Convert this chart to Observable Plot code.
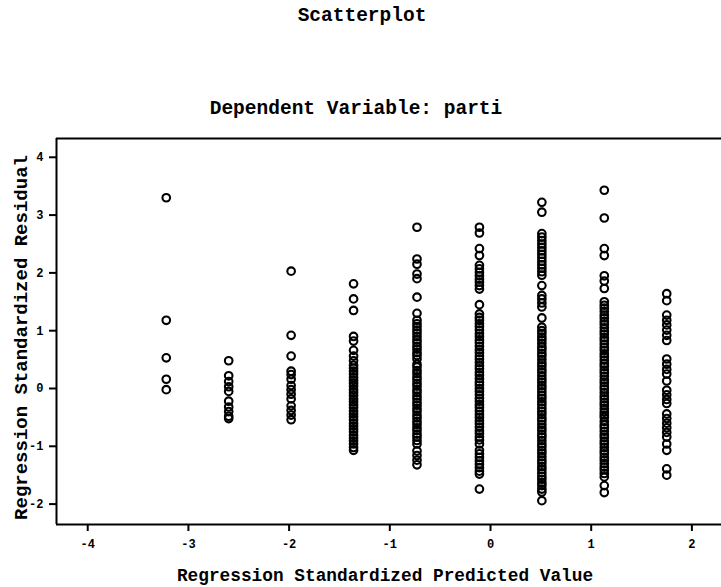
<!DOCTYPE html>
<html>
<head>
<meta charset="utf-8">
<script src="https://cdn.jsdelivr.net/npm/d3@7"></script>
<script src="https://cdn.jsdelivr.net/npm/@observablehq/plot@0.6"></script>
<style>
  html, body { margin: 0; padding: 0; background: #fff; }
  #chart svg { display: block; }
  #chart svg [aria-label$="tick label"] { font-size: 12px; font-weight: bold; }
</style>
</head>
<body>
<div id="chart"></div>
<script>
// Predicted-value columns (x) and the residuals read for each column (y)
const predicted = [-3.22, -2.60, -1.98, -1.36, -0.73, -0.11, 0.51, 1.13, 1.75];

const col1 = [3.30, 1.18, 0.53, 0.16, -0.02];
const col2 = [0.48, 0.22, 0.12, 0.03, -0.05, -0.22, -0.32, -0.40, -0.48, -0.52];
const col3 = [2.03, 0.92, 0.56, 0.30, 0.24, 0.16, 0.05, -0.02, -0.10, -0.18, -0.30, -0.38, -0.46, -0.54];
const col4 = [1.81, 1.55, 1.35, 0.90, 0.82, 0.66, 0.56, 0.48,
  0.40, 0.35, 0.30, 0.25, 0.19, 0.14, 0.09, 0.04, -0.02, -0.07, -0.12, -0.18, -0.23, -0.28,
  -0.33, -0.39, -0.44, -0.49, -0.54, -0.60, -0.65, -0.70, -0.75, -0.81, -0.86, -0.91, -0.96, -1.02, -1.07];
const col5 = [2.79, 2.24, 2.15, 1.98, 1.90, 1.58, 1.30,
  1.18, 1.12, 1.07, 1.01, 0.96, 0.90, 0.84, 0.79, 0.73, 0.68, 0.62, 0.57, 0.51,
  0.42, 0.37, 0.31, 0.26, 0.20, 0.15, 0.09, 0.04, -0.02, -0.07, -0.13, -0.18, -0.24, -0.29,
  -0.35, -0.40, -0.46, -0.51, -0.57, -0.62, -0.68, -0.73, -0.79, -0.84, -0.90, -0.96,
  -1.08, -1.16, -1.24, -1.32];
const col6 = [2.79, 2.69, 2.42, 2.30, 2.13, 2.07, 2.01, 1.95, 1.89, 1.84, 1.78, 1.72, 1.45,
  1.29, 1.23, 1.18, 1.12, 1.07, 1.01, 0.95, 0.90, 0.84, 0.79, 0.73, 0.67, 0.62, 0.56, 0.51,
  0.45, 0.39, 0.34, 0.28, 0.23, 0.17, 0.11, 0.06, 0.00, -0.05, -0.11, -0.17, -0.22, -0.28,
  -0.33, -0.39, -0.45, -0.50, -0.56, -0.61, -0.67, -0.73, -0.78, -0.84, -0.89, -0.96,
  -1.07, -1.13, -1.19, -1.25, -1.31, -1.37, -1.43, -1.48, -1.74];
const col7 = [3.22, 3.05, 2.68, 2.62, 2.56, 2.50, 2.44, 2.38, 2.32, 2.26, 2.20, 2.14, 2.08, 2.02, 1.96,
  1.78, 1.61, 1.55, 1.48, 1.41, 1.22,
  1.06, 1.00, 0.95, 0.89, 0.84, 0.78, 0.72, 0.67, 0.61, 0.56, 0.50, 0.44, 0.39, 0.33, 0.28,
  0.22, 0.16, 0.11, 0.05, 0.00, -0.06, -0.12, -0.17, -0.23, -0.28, -0.34, -0.40, -0.45, -0.51,
  -0.56, -0.62, -0.68, -0.73, -0.79, -0.84, -0.90, -0.96, -1.01, -1.07, -1.12, -1.18, -1.24,
  -1.29, -1.35, -1.40, -1.46, -1.52, -1.57, -1.63, -1.68, -1.74, -1.79, -1.94];
const col8 = [3.43, 2.95, 2.42, 2.30, 1.95, 1.86, 1.73,
  1.50, 1.44, 1.39, 1.33, 1.27, 1.22, 1.16, 1.11, 1.05, 0.99, 0.94, 0.88, 0.83, 0.77, 0.71,
  0.66, 0.60, 0.55, 0.49, 0.43, 0.38, 0.32, 0.27, 0.21, 0.15, 0.10, 0.04, -0.01, -0.07, -0.13,
  -0.18, -0.24, -0.29, -0.35, -0.41, -0.46, -0.50,
  -0.57, -0.63, -0.68, -0.74, -0.80, -0.85, -0.91, -0.96, -1.02, -1.08, -1.13, -1.19, -1.24,
  -1.30, -1.36, -1.41, -1.47, -1.53, -1.68, -1.80];
const col9 = [1.64, 1.52, 1.27, 1.18, 1.10, 1.01, 0.92, 0.83, 0.51, 0.42, 0.33, 0.25, 0.13,
  -0.03, -0.11, -0.19, -0.26, -0.44, -0.52, -0.60, -0.68, -0.76, -0.84, -0.96, -1.07, -1.39, -1.50];

const residualColumns = [col1, col2, col3, col4, col5, col6, col7, col8, col9];

const xTicks = [-4, -3, -2, -1, 0, 1, 2];
const yTicks = [-2, -1, 0, 1, 2, 3, 4];

const titleText = "Scatterplot";
const subtitleText = "Dependent Variable: parti";
const xLabel = "Regression Standardized Predicted Value";
const yLabel = "Regression Standardized Residual";

// Build the point table
const points = [];
residualColumns.forEach((col, i) => col.forEach(r => points.push({x: predicted[i], y: r})));

const xDomain = [-4.31, 2.294];
const yDomain = [-2.353, 4.325];
const font = "'Liberation Mono', 'Courier New', monospace";
const fmt = d => String(d).replace("\u2212", "-");

const plot = Plot.plot({
  width: 721,
  height: 587,
  marginLeft: 56,
  marginRight: 0,
  marginTop: 138,
  marginBottom: 63,
  style: {fontFamily: font, fontWeight: "bold", fontSize: "12px", background: "#fff", color: "#000"},
  x: {domain: xDomain},
  y: {domain: yDomain},
  marks: [
    Plot.axisX({ticks: xTicks, tickSize: 7, tickPadding: 8, tickFormat: fmt, label: null, fontSize: 12, fontWeight: "bold", strokeWidth: 2}),
    Plot.axisY({ticks: yTicks, tickSize: 7, tickPadding: 6, tickFormat: fmt, label: null, fontSize: 12, fontWeight: "bold", strokeWidth: 2}),
    Plot.ruleX([xDomain[0]], {stroke: "#000", strokeWidth: 2}),
    Plot.ruleY([yDomain[0], yDomain[1]], {stroke: "#000", strokeWidth: 2}),
    Plot.dot(points, {x: "x", y: "y", r: 3.8, stroke: "#000", strokeWidth: 2.1, fill: "none"}),
    Plot.text([titleText], {frameAnchor: "top", dy: -124, dx: -27, lineAnchor: "middle", fontSize: 19.5, fontWeight: "bold", fontFamily: font, fill: "#000"}),
    Plot.text([subtitleText], {frameAnchor: "top", dy: -31, dx: -33, lineAnchor: "middle", fontSize: 19.5, fontWeight: "bold", fontFamily: font, fill: "#000"}),
    Plot.text([xLabel], {frameAnchor: "bottom", dy: 51, dx: -4, lineAnchor: "middle", fontSize: 17.8, fontWeight: "bold", fontFamily: font, fill: "#000"}),
    Plot.text([yLabel], {frameAnchor: "left", textAnchor: "middle", lineAnchor: "middle", rotate: -90, dx: -36, dy: 6, fontSize: 19, fontWeight: "bold", fontFamily: font, fill: "#000"})
  ]
});

document.getElementById("chart").append(plot);
</script>
</body>
</html>
